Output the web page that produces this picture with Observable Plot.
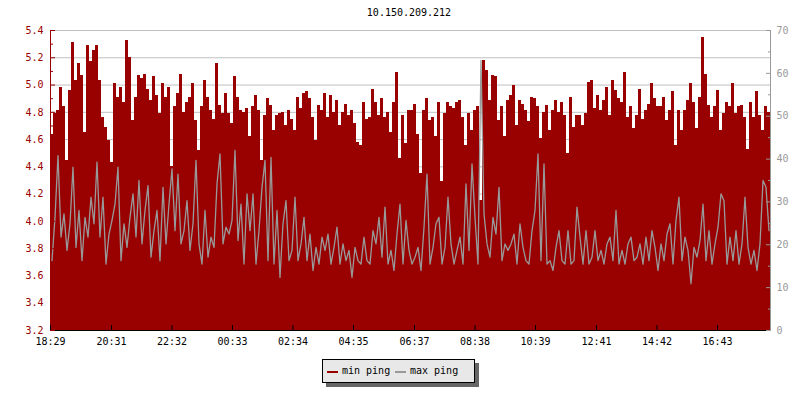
<!DOCTYPE html>
<html>
<head>
<meta charset="utf-8">
<script src="https://cdn.jsdelivr.net/npm/d3@7"></script>
<script src="https://cdn.jsdelivr.net/npm/@observablehq/plot@0.6"></script>
<style>
  body { margin: 0; background: #fff; font-family: "DejaVu Sans Mono", monospace; }
  #wrap { position: relative; width: 800px; height: 400px; overflow: hidden; }
  #title { position: absolute; top: 7px; left: 0; width: 818px; text-align: center; font-size: 10px; line-height: 12px; color: #000; }
  #chart { position: absolute; left: 0; top: 0; }
  #legend { position: absolute; left: 322px; top: 359px; width: 151px; height: 22px; background: #e8e8e8; border: 1px solid #000; box-shadow: 4px 4px 0 #666; font-size: 10px; }
  #legend .sw { position: absolute; top: 11px; width: 11px; height: 2px; }
  #legend .lb { position: absolute; top: 5px; line-height: 12px; color: #000; white-space: nowrap; }
</style>
</head>
<body>
<div id="wrap">
  <div id="chart"></div>
  <div id="title"></div>
  <div id="legend"></div>
</div>
<script>
const chartTitle = "10.150.209.212";
const startLabel = "18:29";
const stepMinutes = 6;
const seriesNames = ["min ping", "max ping"];
const seriesColors = ["#990000", "#999999"];
const leftDomain = [3.2, 5.4];
const rightDomain = [0, 70];
const xTickLabels = ["18:29","20:31","22:32","00:33","02:34","04:35","06:37","08:38","10:39","12:41","14:42","16:43"];
const leftTicks = [3.2,3.4,3.6,3.8,4.0,4.2,4.4,4.6,4.8,5.0,5.2,5.4];
const leftMinorTicks = [3.3,3.5,3.7,3.9,4.1,4.3,4.5,4.7,4.9,5.1,5.3];
const rightTicks = [0,10,20,30,40,50,60,70];
const rightMinorTicks = [5,15,25,35,45,55,65];

// min ping (left axis)
const minPing = [
  4.64,4.79,4.81,4.98,4.84,4.45,4.96,5.31,5.03,5.16,
  5.07,4.65,5.29,5.17,5.25,5.29,5.03,4.76,4.69,4.59,
  4.43,5.01,4.91,4.98,4.87,5.33,5.20,4.74,4.91,5.07,
  5.05,5.08,4.97,4.89,5.06,4.92,4.79,5.01,4.91,4.98,
  4.40,4.84,4.94,5.08,4.80,4.87,4.91,5.01,4.74,4.52,
  4.84,5.03,4.91,4.81,4.75,5.16,4.85,4.79,4.94,4.79,

  4.72,5.06,4.91,4.81,4.80,4.83,4.62,4.84,4.92,4.81,
  4.45,4.78,4.90,4.85,4.67,4.78,4.79,4.80,4.70,4.81,
  4.75,4.67,4.91,4.83,4.94,4.95,4.90,4.76,4.59,4.85,
  4.81,4.94,4.76,4.92,4.80,4.89,4.70,4.80,4.86,4.78,
  4.81,4.72,4.58,4.56,4.87,4.75,4.76,4.97,4.87,4.78,
  4.90,4.76,4.80,4.65,4.87,5.09,4.46,4.78,4.57,4.81,

  4.81,4.86,4.64,4.35,4.81,4.90,4.74,4.76,4.62,4.87,
  4.29,4.79,4.87,4.84,4.83,4.87,4.89,4.76,4.56,4.79,
  4.67,4.81,4.84,4.15,5.18,5.11,4.89,5.07,5.06,4.74,
  4.84,4.62,4.89,4.92,5.00,4.70,4.89,4.86,4.81,4.73,
  4.91,4.90,4.84,4.61,4.80,4.85,4.67,4.81,4.89,4.80,
  4.87,4.78,4.50,4.91,4.69,4.78,4.78,4.70,4.79,5.02,

  5.03,4.83,4.92,4.81,4.89,4.98,4.78,5.03,4.96,4.90,
  4.87,5.09,4.76,4.84,4.68,4.78,4.97,4.75,4.81,4.86,
  5.01,4.90,4.84,4.84,4.91,4.74,4.81,4.95,4.56,4.81,
  4.67,4.81,4.89,5.01,4.87,4.68,4.91,5.35,5.08,4.85,
  4.76,4.84,4.96,4.67,4.79,4.87,4.84,5.01,4.79,4.84,
  4.85,4.76,4.53,4.87,4.76,4.95,4.78,4.67,4.84,4.80
];

// max ping (right axis)
const maxPing = [
  16.3,26.4,40.8,21.8,27.2,18.7,24.9,38.1,19.4,28.0,
  16.3,26.4,21.8,31.1,24.9,39.3,21.8,31.1,15.5,22.5,
  25.7,29.5,38.1,16.3,24.9,19.4,26.4,31.9,21.8,35.0,
  20.2,28.0,33.8,17.1,23.3,28.0,16.3,33.4,20.2,29.5,
  37.7,23.3,36.5,20.2,23.3,30.3,18.7,24.9,39.7,20.2,
  15.5,28.0,17.1,21.8,19.4,34.2,41.2,20.2,24.1,22.5,

  25.7,42.0,21.0,29.5,15.5,31.9,23.3,31.9,15.5,23.3,
  33.4,39.7,16.3,40.4,15.5,28.0,12.4,24.9,30.3,16.3,
  18.7,31.1,16.3,20.2,26.4,16.3,22.5,14.0,19.4,15.5,
  21.8,18.7,22.5,15.5,19.4,24.1,15.5,20.2,16.3,18.7,
  12.4,19.4,16.3,15.5,21.8,16.3,15.5,23.3,20.2,26.4,
  17.1,28.8,15.5,18.7,14.0,22.5,29.5,15.5,25.7,18.7,

  15.5,17.1,19.4,14.0,24.1,36.5,15.5,19.4,24.9,26.4,
  15.5,19.4,31.1,20.2,15.5,18.7,21.8,15.5,34.2,18.7,
  38.9,26.4,15.5,63.0,27.2,20.2,17.1,26.4,22.5,33.4,
  16.3,20.2,18.7,20.2,22.5,15.5,24.9,19.4,16.3,15.5,
  23.3,28.0,41.2,16.3,38.9,15.5,16.3,14.0,19.4,23.3,
  16.3,15.5,23.3,15.5,16.3,28.8,21.8,15.5,23.3,15.5,

  17.1,23.3,16.3,18.7,15.5,20.2,21.8,16.3,28.0,15.5,
  18.7,15.5,20.2,21.8,16.3,17.1,20.2,15.5,21.8,16.3,
  23.3,19.4,14.0,20.2,16.3,22.5,24.9,15.5,25.7,31.1,
  16.3,21.8,18.7,10.9,19.4,17.1,21.0,29.5,16.3,23.3,
  15.5,20.2,24.1,31.9,30.3,15.5,21.8,16.3,23.3,15.5,
  20.2,31.1,19.4,15.5,18.7,14.0,20.2,35.0,33.4,23.3
];

// ---- build ----
function parseHM(s) { const [h, m] = s.split(":").map(Number); return [h, m]; }
const [h0, m0] = parseHM(startLabel);
const t0 = new Date(2024, 0, 1, h0, m0);
const addMin = (d, m) => new Date(d.getTime() + m * 60000);
const n = minPing.length;
const tEnd = addMin(t0, n * stepMinutes);

const table = minPing.map((v, i) => ({ t: addMin(t0, i * stepMinutes), tm: addMin(t0, (i + 0.5) * stepMinutes), min: v, max: maxPing[i] }));
const areaTable = table.concat([{ t: tEnd, min: minPing[n - 1], max: maxPing[n - 1] }]);

// tick dates from labels (roll over midnight)
let day = 0, prev = -1;
const xTicks = xTickLabels.map(s => {
  const [h, m] = parseHM(s);
  const mins = h * 60 + m;
  if (mins < prev) day++;
  prev = mins;
  return new Date(2024, 0, 1 + day, h, m);
});

const toLeft = v => leftDomain[0] + (v - rightDomain[0]) * (leftDomain[1] - leftDomain[0]) / (rightDomain[1] - rightDomain[0]);
const fromLeft = y => rightDomain[0] + (y - leftDomain[0]) * (rightDomain[1] - rightDomain[0]) / (leftDomain[1] - leftDomain[0]);

const red = seriesColors[0], gray = seriesColors[1];

const chart = Plot.plot({
  width: 800,
  height: 400,
  marginLeft: 50,
  marginRight: 30,
  marginTop: 30,
  marginBottom: 70,
  style: { fontFamily: "'DejaVu Sans Mono', monospace", fontSize: "10px", background: "transparent" },
  x: { type: "time", domain: [t0, tEnd], label: null },
  y: { domain: leftDomain, label: null },
  marks: [
    Plot.ruleY(leftTicks.slice(1), { stroke: "#c0c0c0", strokeWidth: 1 }),
    Plot.areaY(areaTable, { x: "t", y1: leftDomain[0], y2: "min", curve: "step-after", fill: red, shapeRendering: "crispEdges" }),
    Plot.line(table, { x: "tm", y: d => toLeft(d.max), curve: "linear", stroke: gray, strokeWidth: 1.3 }),
    // axis lines
    Plot.ruleX([t0], { stroke: red, y1: leftDomain[0], y2: leftDomain[1] }),
    Plot.ruleX([tEnd], { stroke: gray, y1: leftDomain[0], y2: leftDomain[1] }),
    Plot.ruleY([leftDomain[0]], { stroke: "#000" }),
    // left axis
    Plot.axisY({ anchor: "left", ticks: leftTicks, tickSize: -5, fill: "none", stroke: red, label: null }),
    Plot.axisY({ anchor: "left", ticks: leftMinorTicks, tickSize: -3, fill: "none", stroke: red, label: null }),
    Plot.axisY({ anchor: "left", ticks: leftTicks, tickSize: 0, tickPadding: 7, tickFormat: d3.format(".1f"), fill: red, label: null }),
    // right axis
    Plot.axisY({ anchor: "right", ticks: rightTicks.map(toLeft), tickSize: -5, fill: "none", stroke: gray, label: null }),
    Plot.axisY({ anchor: "right", ticks: rightMinorTicks.map(toLeft), tickSize: -3, fill: "none", stroke: gray, label: null }),
    Plot.axisY({ anchor: "right", ticks: rightTicks.map(toLeft), tickSize: 0, tickPadding: 6, tickFormat: y => String(Math.round(fromLeft(y))), fill: gray, label: null }),
    // bottom axis
    Plot.axisX({ anchor: "bottom", ticks: xTicks, tickSize: -5, fill: "none", stroke: "#000", label: null }),
    Plot.axisX({ anchor: "bottom", ticks: xTicks, tickSize: 0, tickPadding: 7, tickFormat: d3.timeFormat("%H:%M"), fill: "#000", label: null })
  ]
});
document.getElementById("chart").appendChild(chart);
document.getElementById("title").textContent = chartTitle;

// legend
const legend = document.getElementById("legend");
const legendPos = [[4, 19], [72, 87]];
seriesNames.forEach((name, i) => {
  const sw = document.createElement("div");
  sw.className = "sw";
  sw.style.left = legendPos[i][0] + "px";
  sw.style.background = seriesColors[i];
  legend.appendChild(sw);
  const lb = document.createElement("div");
  lb.className = "lb";
  lb.style.left = legendPos[i][1] + "px";
  lb.textContent = name;
  legend.appendChild(lb);
});
</script>
</body>
</html>
